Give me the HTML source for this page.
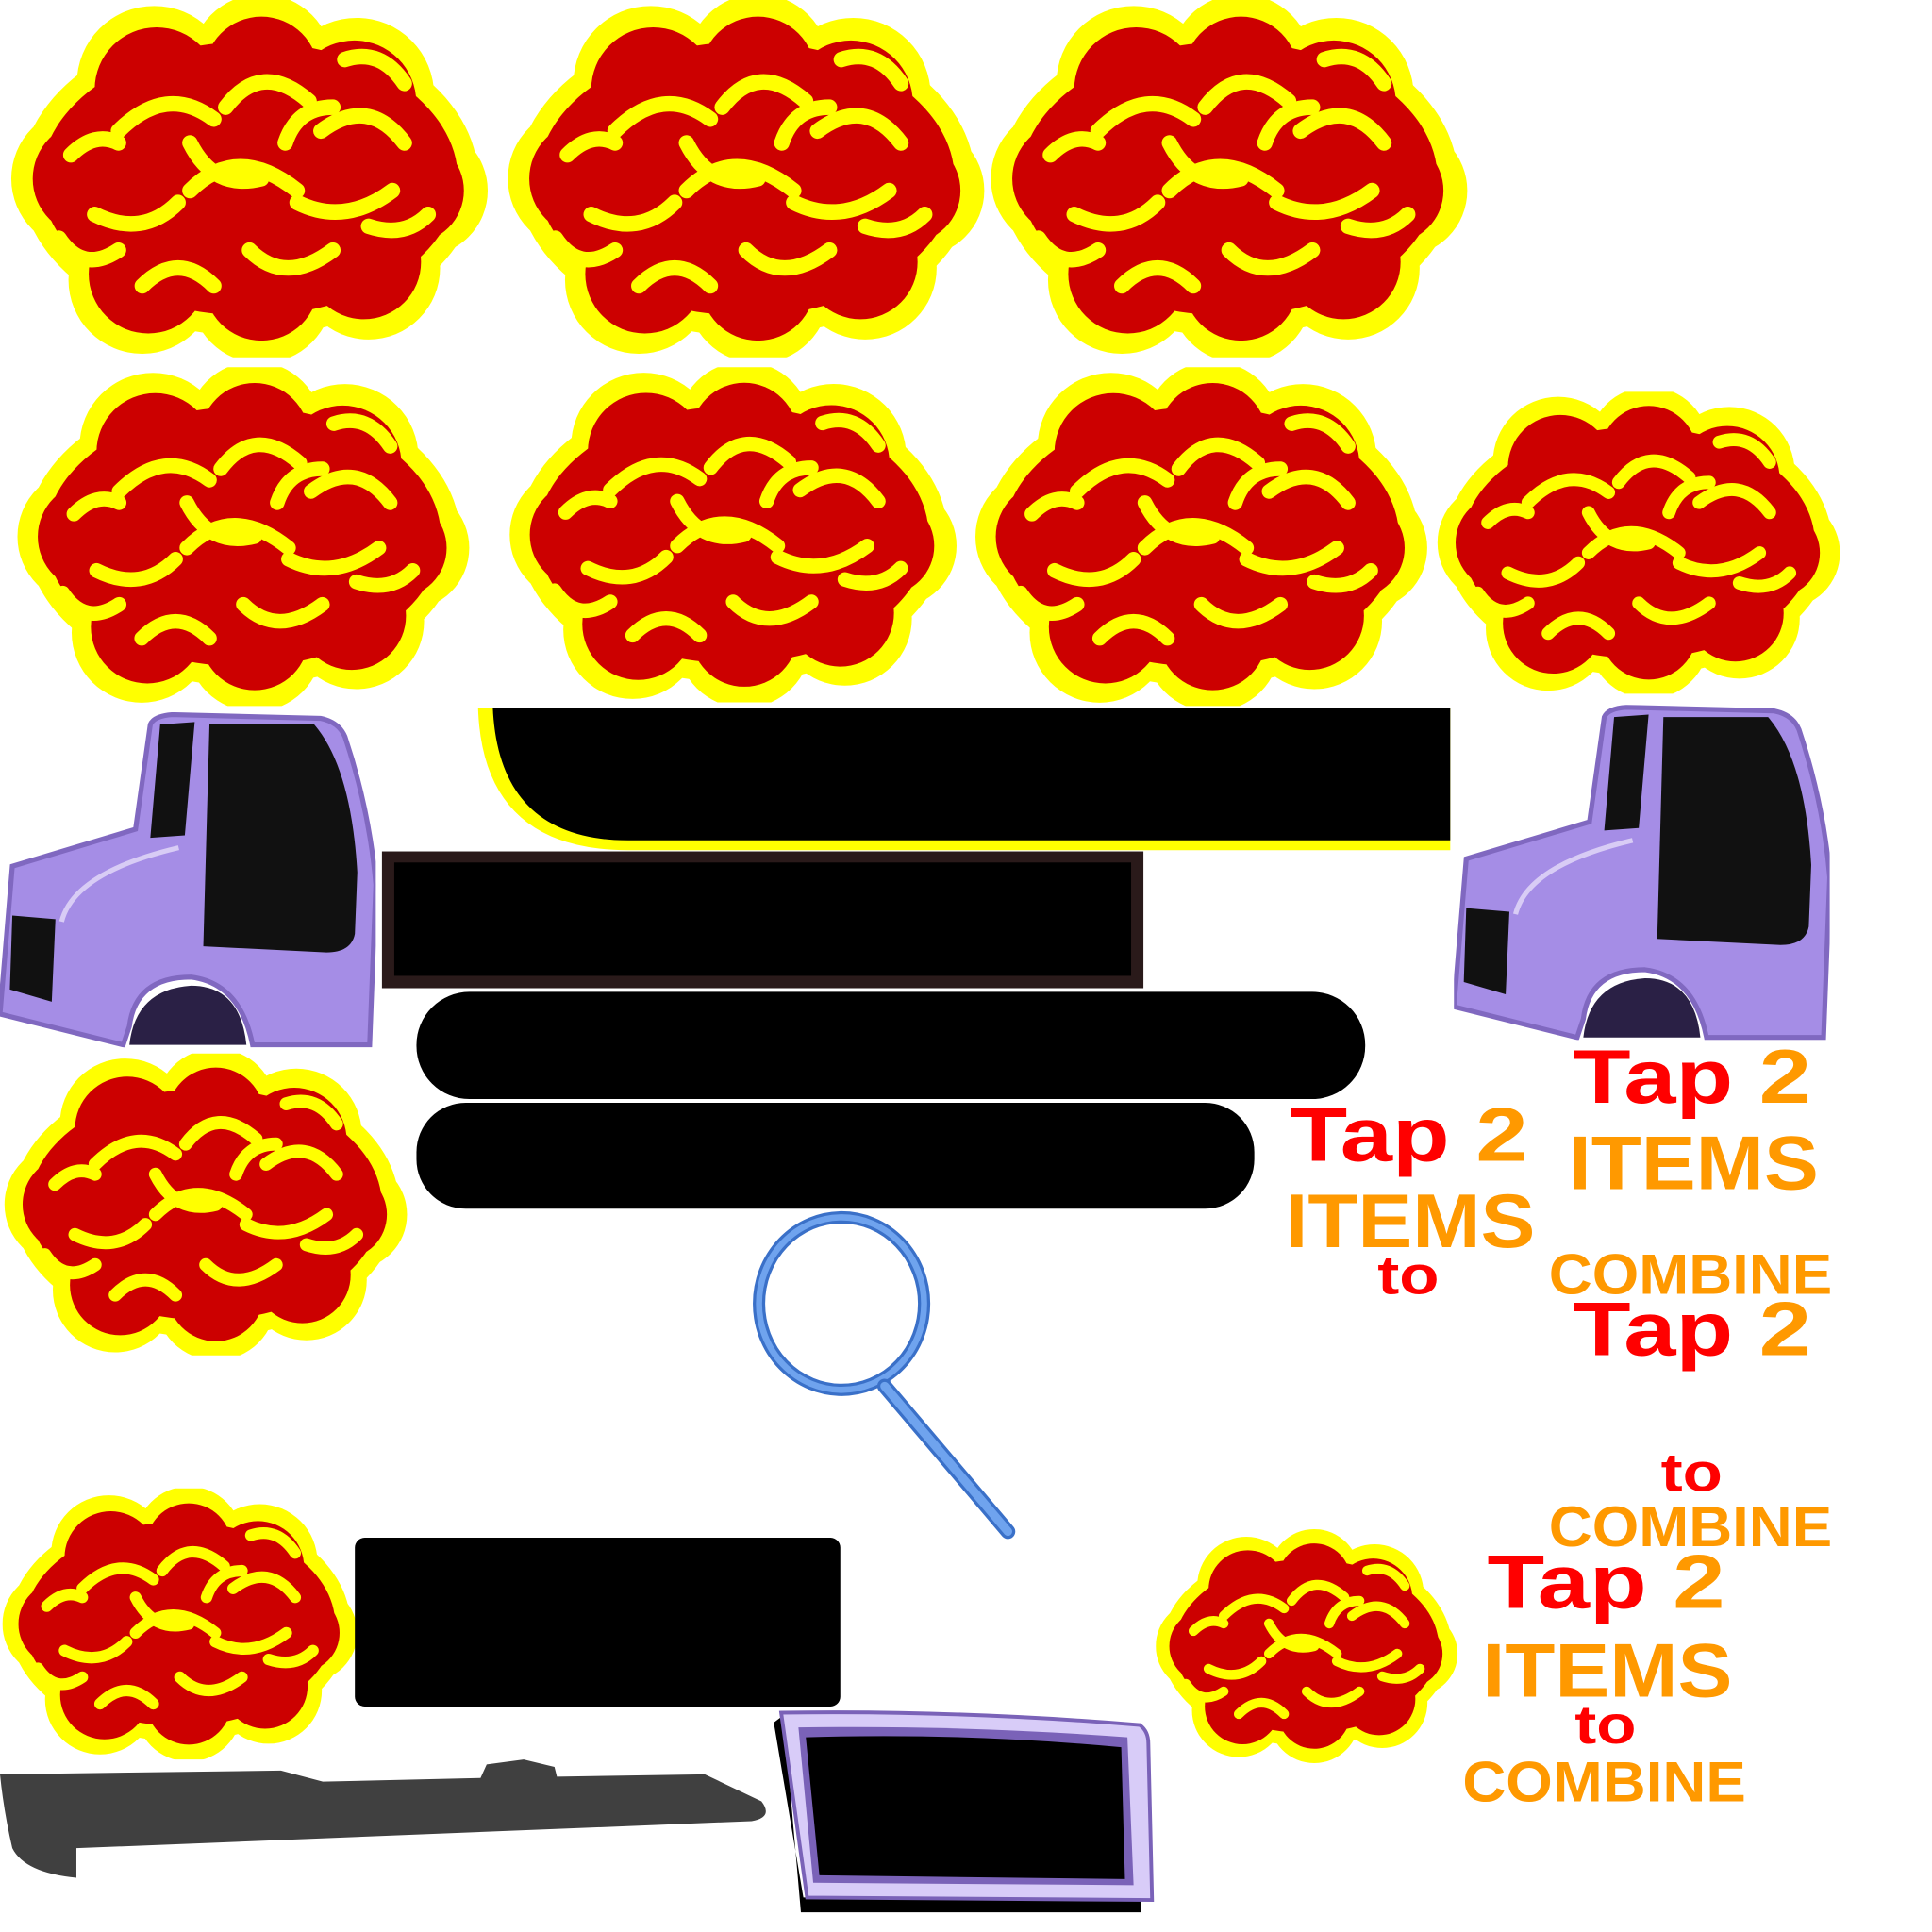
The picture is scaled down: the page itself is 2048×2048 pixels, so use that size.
<!DOCTYPE html>
<html><head><style>html,body{margin:0;padding:0;background:#fff}svg{display:block}</style></head>
<body>
<svg width="2048" height="2048" viewBox="0 0 1568 1568" xmlns="http://www.w3.org/2000/svg">
<defs>
<symbol id="ex" viewBox="0 0 400 300">
 <g fill="#ffff00">
  <ellipse cx="200" cy="150" rx="192" ry="132"/>
  <circle cx="120" cy="70" r="65"/><circle cx="210" cy="55" r="60"/><circle cx="290" cy="80" r="65"/>
  <circle cx="60" cy="150" r="60"/><circle cx="345" cy="160" r="55"/><circle cx="110" cy="235" r="62"/>
  <circle cx="210" cy="245" r="60"/><circle cx="300" cy="225" r="60"/>
 </g>
 <g fill="#cc0000">
  <ellipse cx="200" cy="150" rx="175" ry="115"/>
  <circle cx="122" cy="75" r="52"/><circle cx="210" cy="62" r="48"/><circle cx="288" cy="86" r="52"/>
  <circle cx="66" cy="150" r="48"/><circle cx="336" cy="160" r="44"/><circle cx="115" cy="230" r="50"/>
  <circle cx="210" cy="238" r="48"/><circle cx="296" cy="220" r="48"/>
 </g>
 <g fill="none" stroke="#ffff00" stroke-width="13" stroke-linecap="round">
  <path d="M90 110 q40 -40 80 -10"/><path d="M180 90 q30 -40 70 -5"/><path d="M260 110 q40 -30 70 10"/>
  <path d="M70 180 q40 20 70 -10"/><path d="M150 160 q40 -40 90 0"/><path d="M240 170 q40 20 80 -10"/>
  <path d="M110 240 q30 -30 60 0"/><path d="M200 210 q30 30 70 0"/><path d="M150 120 q20 40 60 30"/>
  <path d="M230 120 q10 -30 40 -30"/><path d="M50 130 q20 -20 40 -10"/><path d="M300 190 q30 10 50 -10"/>
  <path d="M40 200 q20 30 50 10"/><path d="M280 50 q30 -10 50 20"/>
 </g>
</symbol>
<symbol id="truck" viewBox="0 0 305 272">
 <path d="M10 125 L110 95 L122 10 Q125 3 140 2 L260 5 Q275 8 280 20 Q300 80 305 140 L300 270 L205 270 Q195 220 155 215 Q110 215 105 255 L100 270 L0 245 Z" fill="#a58de6" stroke="#8068c0" stroke-width="4"/>
 <path d="M130 10 L158 8 L150 100 L122 102 Z" fill="#111"/>
 <path d="M170 10 L255 10 Q285 45 290 130 L288 180 Q285 195 265 195 L165 190 Z" fill="#111"/>
 <path d="M10 165 L45 168 L42 235 L8 225 Z" fill="#111"/>
 <path d="M105 270 Q110 225 155 222 Q195 222 200 270 Z" fill="#2a2045"/>
 <path d="M50 170 Q60 130 145 110" fill="none" stroke="#d8ccf5" stroke-width="4"/>
</symbol>
</defs>

<use href="#ex" x="5" y="0" width="395" height="290"/>
<use href="#ex" x="408" y="0" width="395" height="290"/>
<use href="#ex" x="800" y="0" width="395" height="290"/>
<use href="#ex" x="5" y="298" width="385" height="275"/>
<use href="#ex" x="405" y="298" width="380" height="272"/>
<use href="#ex" x="790" y="298" width="370" height="275"/>
<use href="#ex" x="1165" y="318" width="330" height="245"/>
<use href="#ex" x="2" y="855" width="330" height="245"/>
<use href="#ex" x="2" y="1208" width="288" height="220"/>
<use href="#ex" x="938" y="1240" width="245" height="192"/>

<use href="#truck" x="0" y="578" width="305" height="272"/>
<use href="#truck" x="1180" y="572" width="305" height="272"/>

<path d="M388 575 L1177 575 L1177 690 L510 690 Q392 690 388 575 Z" fill="#ffff00"/>
<path d="M400 575 L1177 575 L1177 682 L510 682 Q405 682 400 575 Z" fill="#000"/>
<rect x="310" y="691" width="618" height="111" fill="#2a1a1a"/>
<rect x="320" y="700" width="598" height="92" fill="#000"/>
<rect x="338" y="805" width="770" height="87" rx="43" fill="#000"/>
<rect x="338" y="895" width="680" height="86" rx="40" fill="#000"/>
<rect x="288" y="1248" width="394" height="137" rx="8" fill="#000"/>

<ellipse cx="683" cy="1058" rx="67" ry="70" fill="none" stroke="#3a70c8" stroke-width="10"/>
<ellipse cx="683" cy="1058" rx="67" ry="70" fill="none" stroke="#6fa3ee" stroke-width="5"/>
<path d="M718 1125 L818 1243" stroke="#3a70c8" stroke-width="12" stroke-linecap="round"/>
<path d="M718 1125 L818 1243" stroke="#6fa3ee" stroke-width="7" stroke-linecap="round"/>

<path d="M0 1440 L228 1437 L262 1446 L390 1443 L395 1432 L425 1428 L450 1434 L452 1442 L572 1440 L618 1462 Q628 1475 610 1478 L62 1500 L62 1524 Q20 1520 10 1500 Q3 1470 0 1440 Z" fill="#404040"/>

<path d="M628 1398 L636 1392 L650 1552 L926 1552 L926 1540 L652 1540 Z" fill="#000"/>
<path d="M634 1390 Q780 1388 925 1400 Q932 1405 932 1415 L935 1542 L655 1540 Z" fill="#d8ccf8" stroke="#7a62b8" stroke-width="3"/>
<path d="M648 1402 Q780 1400 915 1410 L920 1530 L660 1528 Z" fill="#7a62b8"/>
<path d="M654 1410 Q780 1406 910 1418 L913 1525 L665 1522 Z" fill="#000"/>

<g font-family="Liberation Sans, sans-serif" font-weight="bold">
 <text x="1047" y="942" font-size="62" textLength="193" lengthAdjust="spacingAndGlyphs"><tspan fill="#ff0000">Tap </tspan><tspan fill="#ff9900">2</tspan></text>
 <text x="1043" y="1012" font-size="62" fill="#ff9900" textLength="203" lengthAdjust="spacingAndGlyphs">ITEMS</text>
 <text x="1118" y="1050" font-size="44" fill="#ff0000" textLength="50" lengthAdjust="spacingAndGlyphs">to</text>

 <text x="1277" y="895" font-size="62" textLength="193" lengthAdjust="spacingAndGlyphs"><tspan fill="#ff0000">Tap </tspan><tspan fill="#ff9900">2</tspan></text>
 <text x="1273" y="965" font-size="62" fill="#ff9900" textLength="203" lengthAdjust="spacingAndGlyphs">ITEMS</text>
 <text x="1257" y="1050" font-size="46" fill="#ff9900" textLength="230" lengthAdjust="spacingAndGlyphs">COMBINE</text>
 <text x="1277" y="1100" font-size="62" textLength="193" lengthAdjust="spacingAndGlyphs"><tspan fill="#ff0000">Tap </tspan><tspan fill="#ff9900">2</tspan></text>
 <text x="1348" y="1210" font-size="44" fill="#ff0000" textLength="50" lengthAdjust="spacingAndGlyphs">to</text>
 <text x="1257" y="1255" font-size="46" fill="#ff9900" textLength="230" lengthAdjust="spacingAndGlyphs">COMBINE</text>
 <text x="1207" y="1305" font-size="62" textLength="193" lengthAdjust="spacingAndGlyphs"><tspan fill="#ff0000">Tap </tspan><tspan fill="#ff9900">2</tspan></text>
 <text x="1203" y="1377" font-size="62" fill="#ff9900" textLength="203" lengthAdjust="spacingAndGlyphs">ITEMS</text>
 <text x="1278" y="1415" font-size="44" fill="#ff0000" textLength="50" lengthAdjust="spacingAndGlyphs">to</text>
 <text x="1187" y="1462" font-size="46" fill="#ff9900" textLength="230" lengthAdjust="spacingAndGlyphs">COMBINE</text>
</g>
</svg>
</body></html>
